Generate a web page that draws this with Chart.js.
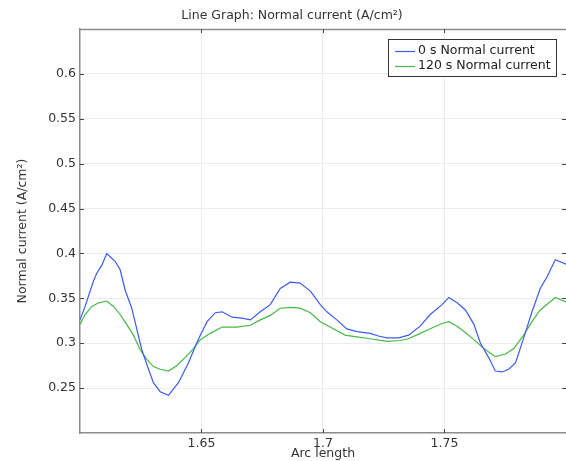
<!DOCTYPE html>
<html>
<head>
<meta charset="utf-8">
<script src="https://cdn.jsdelivr.net/npm/chart.js@4.4.1/dist/chart.umd.min.js"></script>
<style>
  html, body { margin: 0; padding: 0; background: #fff; }
  canvas { display: block; }
</style>
</head>
<body>
<canvas id="chart" width="566" height="461"></canvas>
<script>
// Values
const chartTitle = 'Line Graph: Normal current (A/cm\u00B2)';
const xTitle = 'Arc length';
const yTitle = 'Normal current (A/cm\u00B2)';

const xTicks = [1.65, 1.7, 1.75];
const yTicks = [0.25, 0.3, 0.35, 0.4, 0.45, 0.5, 0.55, 0.6];

const label0 = '0 s Normal current';
const arcLength0 = [1.6, 1.6021, 1.6055, 1.6069, 1.609, 1.611, 1.6145, 1.6165, 1.6186, 1.6213,
    1.6254, 1.6282, 1.6302, 1.633, 1.6364, 1.6405, 1.6446, 1.648, 1.6495, 1.6523,
    1.6557, 1.6585, 1.6626, 1.6667, 1.6701, 1.6742, 1.6783, 1.6824, 1.6865, 1.6906,
    1.6948, 1.6989, 1.7016, 1.7057, 1.7098, 1.714, 1.7194, 1.7228, 1.7263, 1.7311,
    1.7352, 1.74, 1.7441, 1.749, 1.7518, 1.7552, 1.7586, 1.7621, 1.7648, 1.7682,
    1.7709, 1.7737, 1.7764, 1.7792, 1.7826, 1.786, 1.7894, 1.7922, 1.7956, 1.8];
const current0 = [0.326, 0.341, 0.369, 0.378, 0.387, 0.4, 0.391, 0.382, 0.359, 0.339,
    0.293, 0.271, 0.256, 0.246, 0.242, 0.256, 0.278, 0.3, 0.309, 0.324,
    0.334, 0.335, 0.329, 0.328, 0.326, 0.335, 0.343, 0.361, 0.368, 0.367,
    0.358, 0.343, 0.335, 0.326, 0.316, 0.313, 0.311, 0.308, 0.306, 0.306,
    0.309, 0.319, 0.332, 0.343, 0.351, 0.345, 0.337, 0.321, 0.3, 0.284,
    0.269, 0.268, 0.271, 0.278, 0.306, 0.335, 0.361, 0.374, 0.393, 0.388];

const label120 = '120 s Normal current';
const arcLength120 = [1.6, 1.6021, 1.6049, 1.6076, 1.611, 1.6138, 1.6165, 1.6192, 1.622, 1.6247,
    1.6275, 1.6302, 1.633, 1.6364, 1.6398, 1.6432, 1.6467, 1.6495, 1.6536, 1.6585,
    1.6646, 1.6701, 1.6742, 1.6783, 1.6824, 1.6865, 1.6906, 1.6948, 1.6989, 1.7037,
    1.7091, 1.714, 1.7194, 1.7263, 1.7318, 1.7352, 1.74, 1.7448, 1.749, 1.7518,
    1.7552, 1.7586, 1.7621, 1.7662, 1.7709, 1.7751, 1.7785, 1.7826, 1.786, 1.7894,
    1.7956, 1.8];
const current120 = [0.321, 0.332, 0.341, 0.345, 0.347, 0.341, 0.332, 0.321, 0.309, 0.293,
    0.282, 0.274, 0.271, 0.269, 0.275, 0.284, 0.294, 0.304, 0.311, 0.318,
    0.318, 0.32, 0.326, 0.331, 0.339, 0.34, 0.339, 0.334, 0.324, 0.317,
    0.309, 0.307, 0.305, 0.302, 0.303, 0.305, 0.311, 0.317, 0.322, 0.324,
    0.319, 0.312, 0.304, 0.294, 0.285, 0.288, 0.294, 0.309, 0.324, 0.337,
    0.351, 0.346];

const BLUE = '#3a5cf5';
const GREEN = '#46b946';
const FONT = "'DejaVu Sans', sans-serif";
const FONT_SIZE = 12.5;

function toPoints(xs, ys) {
    return xs.map((x, i) => ({ x: x, y: ys[i] }));
}

function trimNumber(v) {
    return parseFloat(v.toFixed(2)).toString();
}

// Title above the plot
const titlePlugin = {
    id: 'plotTitle',
    afterDraw(chart) {
        const ctx = chart.ctx;
        ctx.save();
        ctx.font = FONT_SIZE + 'px ' + FONT;
        ctx.fillStyle = '#333';
        ctx.textAlign = 'center';
        ctx.textBaseline = 'middle';
        ctx.fillText(chartTitle, 292, 16);
        ctx.restore();
    }
};

// Top border and inward tick marks on all four sides
const framePlugin = {
    id: 'frame',
    afterDraw(chart) {
        const ctx = chart.ctx;
        const a = chart.chartArea;
        const xs = chart.scales.x;
        const ys = chart.scales.y;
        ctx.save();
        ctx.strokeStyle = '#8c8c8c';
        ctx.lineWidth = 1.5;
        ctx.beginPath();
        ctx.moveTo(a.left, a.top + 0.5);
        ctx.lineTo(a.right, a.top + 0.5);
        ctx.stroke();

        ctx.strokeStyle = '#444';
        ctx.lineWidth = 1;
        ctx.beginPath();
        xTicks.forEach(v => {
            const px = Math.round(xs.getPixelForValue(v)) + 0.5;
            ctx.moveTo(px, a.bottom);
            ctx.lineTo(px, a.bottom - 4);
            ctx.moveTo(px, a.top);
            ctx.lineTo(px, a.top + 4);
        });
        yTicks.forEach(v => {
            const py = Math.round(ys.getPixelForValue(v)) + 0.5;
            ctx.moveTo(a.left, py);
            ctx.lineTo(a.left + 4, py);
            ctx.moveTo(a.right, py);
            ctx.lineTo(a.right - 4, py);
        });
        ctx.stroke();
        ctx.restore();
    }
};

// Boxed legend in the upper right of the plot
const legendPlugin = {
    id: 'boxLegend',
    afterDraw(chart) {
        const ctx = chart.ctx;
        const a = chart.chartArea;
        const w = 168, h = 37;
        const left = a.right - 10 - w;
        const top = a.top + 10;
        ctx.save();
        ctx.fillStyle = '#fff';
        ctx.fillRect(left, top, w, h);
        ctx.strokeStyle = '#333';
        ctx.lineWidth = 1;
        ctx.strokeRect(left + 0.5, top + 0.5, w, h);
        ctx.font = FONT_SIZE + 'px ' + FONT;
        ctx.textBaseline = 'middle';
        chart.data.datasets.forEach((ds, i) => {
            const y = top + 11.5 + i * 15;
            ctx.strokeStyle = ds.borderColor;
            ctx.lineWidth = 1.2;
            ctx.beginPath();
            ctx.moveTo(left + 7, Math.round(y) + 0.5);
            ctx.lineTo(left + 27, Math.round(y) + 0.5);
            ctx.stroke();
            ctx.fillStyle = '#222';
            ctx.fillText(ds.label, left + 30, y);
        });
        ctx.restore();
    }
};

Chart.defaults.font.family = FONT;
Chart.defaults.font.size = FONT_SIZE;
Chart.defaults.color = '#333';

new Chart(document.getElementById('chart'), {
    type: 'line',
    data: {
        datasets: [
            {
                label: label0,
                data: toPoints(arcLength0, current0),
                borderColor: BLUE,
                borderWidth: 1.2,
                pointRadius: 0,
                tension: 0,
                fill: false
            },
            {
                label: label120,
                data: toPoints(arcLength120, current120),
                borderColor: GREEN,
                borderWidth: 1.2,
                pointRadius: 0,
                tension: 0,
                fill: false
            }
        ]
    },
    options: {
        responsive: false,
        animation: false,
        devicePixelRatio: 1,
        layout: { padding: { top: 29, right: 0, left: 0, bottom: 0 } },
        plugins: {
            legend: { display: false },
            title: { display: false },
            tooltip: { enabled: false }
        },
        scales: {
            x: {
                type: 'linear',
                min: 1.6,
                max: 1.8,
                afterBuildTicks: scale => { scale.ticks = xTicks.map(v => ({ value: v })); },
                afterFit: scale => { scale.height = 28; },
                ticks: {
                    padding: 3,
                    maxRotation: 0,
                    color: '#333',
                    callback: v => trimNumber(v)
                },
                grid: { color: '#ececec', drawTicks: false },
                border: { color: '#8c8c8c', width: 1.5 },
                title: { display: true, text: xTitle, color: '#333', padding: 0 }
            },
            y: {
                type: 'linear',
                min: 0.2,
                max: 0.65,
                afterBuildTicks: scale => { scale.ticks = yTicks.map(v => ({ value: v })); },
                afterFit: scale => { scale.width = 80; },
                ticks: {
                    padding: 4,
                    color: '#333',
                    callback: v => trimNumber(v)
                },
                grid: { color: '#ececec', drawTicks: false },
                border: { color: '#8c8c8c', width: 1.5 },
                title: { display: true, text: yTitle, color: '#333', padding: { top: 15, bottom: 0 } }
            }
        }
    },
    plugins: [titlePlugin, framePlugin, legendPlugin]
});
</script>
</body>
</html>
